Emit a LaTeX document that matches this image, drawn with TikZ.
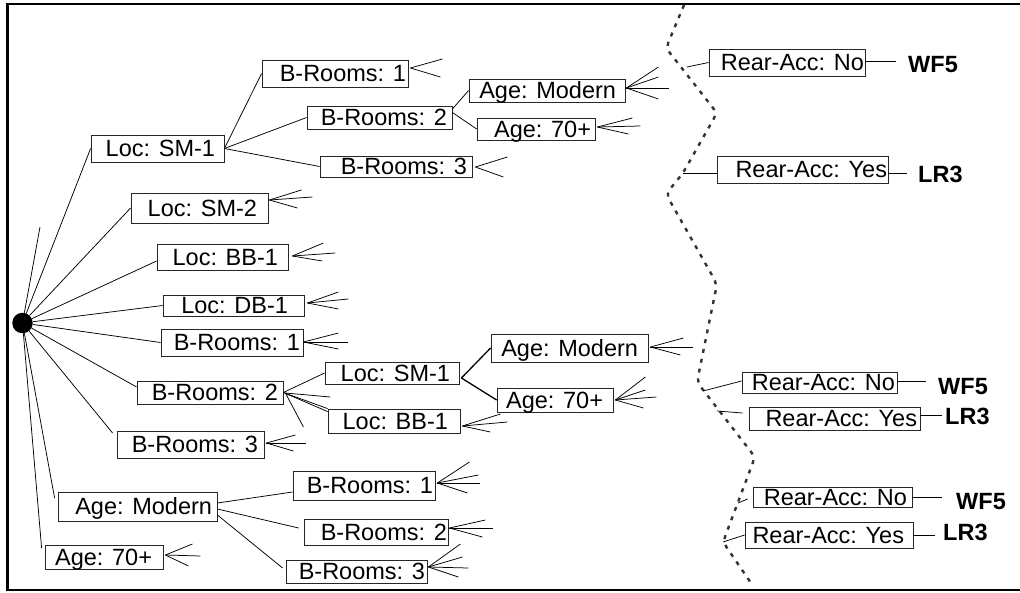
\documentclass[tikz,border=0pt]{standalone}
\usepackage{fontspec}
\setmainfont{Liberation Sans}
\usetikzlibrary{calc}
% box: name, x1, y1, x2, y2, right padding, text
\newcommand{\bx}[7]{%
  \pgfmathsetmacro{\bxw}{#4-#2}%
  \pgfmathsetmacro{\bxh}{#5-#3}%
  \node[bx, minimum height=\bxh pt] (#1) at ({(#2+#4)/2},{(#3+#5)/2}) {\makebox[\bxw pt][r]{#7\hspace*{#6pt}}};}
% fan of short stubs: anchor, start offset, list of dx/dy
\newcommand{\fan}[3]{\foreach \fdx/\fdy in {#3}{\draw[ln] (#1) ++(#2) -- ++(\fdx,\fdy);}}
\begin{document}
\begin{tikzpicture}[x=1pt,y=-1pt,
  ln/.style={line width=0.75pt},
  bx/.style={draw=black!85, line width=0.8pt, rectangle, inner sep=0pt,
    font=\fontsize{23.5}{26}\selectfont, text height=16.6pt, text depth=0pt},
  lbl/.style={font=\fontsize{23.5}{26}\selectfont\bfseries, inner ysep=0pt,
    text height=16.6pt, text depth=0pt, anchor=west},
  dots/.style={line width=2.4pt, black!80, dash pattern=on 4pt off 6pt, rounded corners=6pt}]
\useasboundingbox (0,0) rectangle (1020,592);
\draw[line width=2.5pt] (1030,4) -- (7.5,4) -- (7.5,590) -- (1030,590);

\node[circle, fill=black, minimum size=20.5pt, inner sep=0pt] (root) at (22.5,323) {};

% level 1
\bx{lsm1}{91}{135}{224}{162}{9}{Loc: SM-1}
\bx{lsm2}{131}{193}{268}{223}{11}{Loc: SM-2}
\bx{lbb1}{157}{244}{288}{270}{10}{Loc: BB-1}
\bx{ldb1}{163}{295}{304}{316}{16}{Loc: DB-1}
\bx{br1b}{161}{329}{303}{356}{3}{B-Rooms: 1}
\bx{br2b}{137}{381}{283}{404}{5}{B-Rooms: 2}
\bx{br3b}{117}{431}{264}{458}{6}{B-Rooms: 3}
\bx{amodc}{58}{492}{217}{521}{5}{Age: Modern}
\bx{a70c}{45}{545}{163}{569}{11}{Age: 70+}
% top subtree
\bx{br1a}{262}{60}{408}{87}{2}{B-Rooms: 1}
\bx{br2a}{307}{106}{452}{129}{5}{B-Rooms: 2}
\bx{br3a}{320}{156}{472}{177}{5}{B-Rooms: 3}
\bx{amoda}{469}{79}{625}{102}{9}{Age: Modern}
\bx{a70a}{477}{118}{595}{140}{4}{Age: 70+}
% middle subtree
\bx{lsm1b}{325}{362}{459}{384}{9}{Loc: SM-1}
\bx{lbb1b}{328}{409}{460}{433}{12}{Loc: BB-1}
\bx{amodb}{491}{334}{648}{362}{10}{Age: Modern}
\bx{a70b}{497}{388}{613}{412}{10}{Age: 70+}
% bottom subtree
\bx{br1c}{293}{471}{435}{500}{2}{B-Rooms: 1}
\bx{br2c}{304}{519}{448}{545}{1}{B-Rooms: 2}
\bx{br3c}{286}{560}{427}{583}{2}{B-Rooms: 3}
% right side
\bx{rna}{709}{49}{865}{76}{1}{Rear-Acc: No}
\bx{rya}{717}{156}{888}{183}{1}{Rear-Acc: Yes}
\bx{rnb}{742}{372}{897}{393}{2}{Rear-Acc: No}
\bx{ryb}{749}{407}{920}{430}{3}{Rear-Acc: Yes}
\bx{rnc}{753}{487}{912}{507}{5}{Rear-Acc: No}
\bx{ryc}{745}{522}{913}{548}{9}{Rear-Acc: Yes}

\node[lbl, inner xsep=12pt] (wf5a) at (896,64) {WF5};
\node[lbl, inner xsep=11pt] (lr3a) at (907,174) {LR3};
\node[lbl, inner xsep=12pt] (wf5b) at (926,386.5) {WF5};
\node[lbl, inner xsep=3pt] (lr3b) at (942,416.5) {LR3};
\node[lbl, inner xsep=14pt] (wf5c) at (942,501.5) {WF5};
\node[lbl, inner xsep=8pt] (lr3c) at (935,532) {LR3};

% root connectors
\coordinate (rs) at (40,227);
\draw[ln] (root) -- (rs);
\draw[ln] (root) -- (lsm1.west);
\draw[ln] (root) -- (lsm2.west);
\draw[ln] (root) -- ([yshift=-4pt]lbb1.west);
\draw[ln] (root) -- (ldb1.west);
\draw[ln] (root) -- (br1b.west);
\draw[ln] (root) -- ([yshift=5.5pt]br2b.west);
\draw[ln] (root) -- ([shift={(-4pt,11.5pt)}]br3b.west);
\draw[ln] (root) -- ([shift={(-3pt,8.5pt)}]amodc.west);
\draw[ln] (root) -- ([shift={(-3pt,9pt)}]a70c.west);

% top subtree
\draw[ln] (lsm1.east) -- (br1a.west);
\draw[ln] (lsm1.east) -- (br2a.west);
\draw[ln] (lsm1.east) -- (br3a.west);
\draw[ln] ([yshift=8.5pt]br2a.east) -- (amoda.west);
\draw[ln] ([yshift=5pt]br2a.east) -- (a70a.west);

% middle subtree
\draw[ln] (br2b.east) -- (lsm1b.west);
\draw[ln] (br2b.east) -- (lbb1b.north west);
\draw[ln] (br2b.east) -- ([yshift=-3pt]lbb1b.north west);
\draw[line width=1.3pt] ([shift={(2pt,-5pt)}]lsm1b.east) -- (amodb.west);
\draw[line width=1.3pt] ([shift={(2pt,-5pt)}]lsm1b.east) -- (a70b.west);

% bottom subtree
\draw[ln] ([yshift=3.5pt]amodc.east) -- ([yshift=-6.5pt]br1c.west);
\draw[ln] ([yshift=-2.5pt]amodc.east) -- ([shift={(-5pt,4pt)}]br2c.west);
\draw[ln] ([yshift=-8.5pt]amodc.east) -- ([shift={(-3pt,3.5pt)}]br3c.west);

% fans of stubs
\fan{br1a.east}{2,-5.5}{32/-9, 30/9}
\fan{amoda.east}{1,-2.5}{32/-21, 32/-11, 43/0, 32/11}
\fan{a70a.east}{2,-2}{35/-9, 43/-1, 31/7}
\fan{br3a.east}{3,0.5}{32/-10, 28/10}
\fan{lsm2.east}{1,-8}{32/-10, 43/-3, 28/8}
\fan{lbb1.east}{4,-1}{31/-13, 43/-3, 30/5}
\fan{ldb1.east}{3,-2.5}{31/-11, 41/-4, 31/6}
\fan{br1b.east}{0,-0.5}{35/-9, 45/0, 35/7}
\fan{br2b.east}{2,0.5}{45/4, 18/34}
\fan{br3b.east}{2,-1.5}{29/-8, 40/0, 27/8}
\fan{lbb1b.east}{2,5}{38/-12, 45/-4, 28/6}
\fan{amodb.east}{2,-1}{33/-9, 43/0, 30/8}
\fan{a70b.east}{2,0}{30/-23, 30/-10, 41/-3, 28/8}
\fan{a70c.east}{2,-2}{27/-11, 35/1, 23/11}
\fan{br1c.east}{2,-2.5}{32/-21, 41/-8, 43/0, 30/10}
\fan{br2c.east}{1,-4}{36/-8, 44/0, 33/9}
\fan{br3c.east}{1,-4.5}{32/-23, 34/-10, 40/1, 30/10}

% dotted separating curve
\draw[dots] (684,5) -- (666,48) -- (717,113) -- (683,173) -- (666,194) -- (717,284)
  -- (697,382) -- (755,457) -- (723,542) -- (753,586);
\coordinate (ca) at (687,67);
\coordinate (cb) at (683,173);
\coordinate (cc) at (703,391);
\coordinate (cd) at (717,411);
\coordinate (ce) at (738,503);
\coordinate (cf) at (723,542);
\draw[ln] (ca) -- (rna.west);
\draw[ln] (cb) -- (cb -| rya.west);
\draw[ln] (cc) -- ([yshift=1.5pt]rnb.west);
\draw[ln] (cd) -- ([shift={(-6pt,5.5pt)}]ryb.west);
\draw[ln] (ce) -- ([shift={(-5pt,-2pt)}]rnc.west);
\draw[ln] (cf) -- (ryc.west);

% leaf labels
\draw[ln] ([yshift=1.5pt]rna.east) -- ([yshift=1.5pt]rna.east -| wf5a.west);
\draw[ln] ([yshift=-3.5pt]rya.east) -- ([yshift=-3.5pt]rya.east -| lr3a.west);
\draw[ln] ([yshift=1.5pt]rnb.east) -- ([yshift=1.5pt]rnb.east -| wf5b.west);
\draw[ln] ([yshift=3.5pt]ryb.east) -- ([yshift=3.5pt]ryb.east -| lr3b.west);
\draw[ln] (rnc.east) -- (rnc.east -| wf5c.west);
\draw[ln] (ryc.east) -- (ryc.east -| lr3c.west);
\end{tikzpicture}
\end{document}
